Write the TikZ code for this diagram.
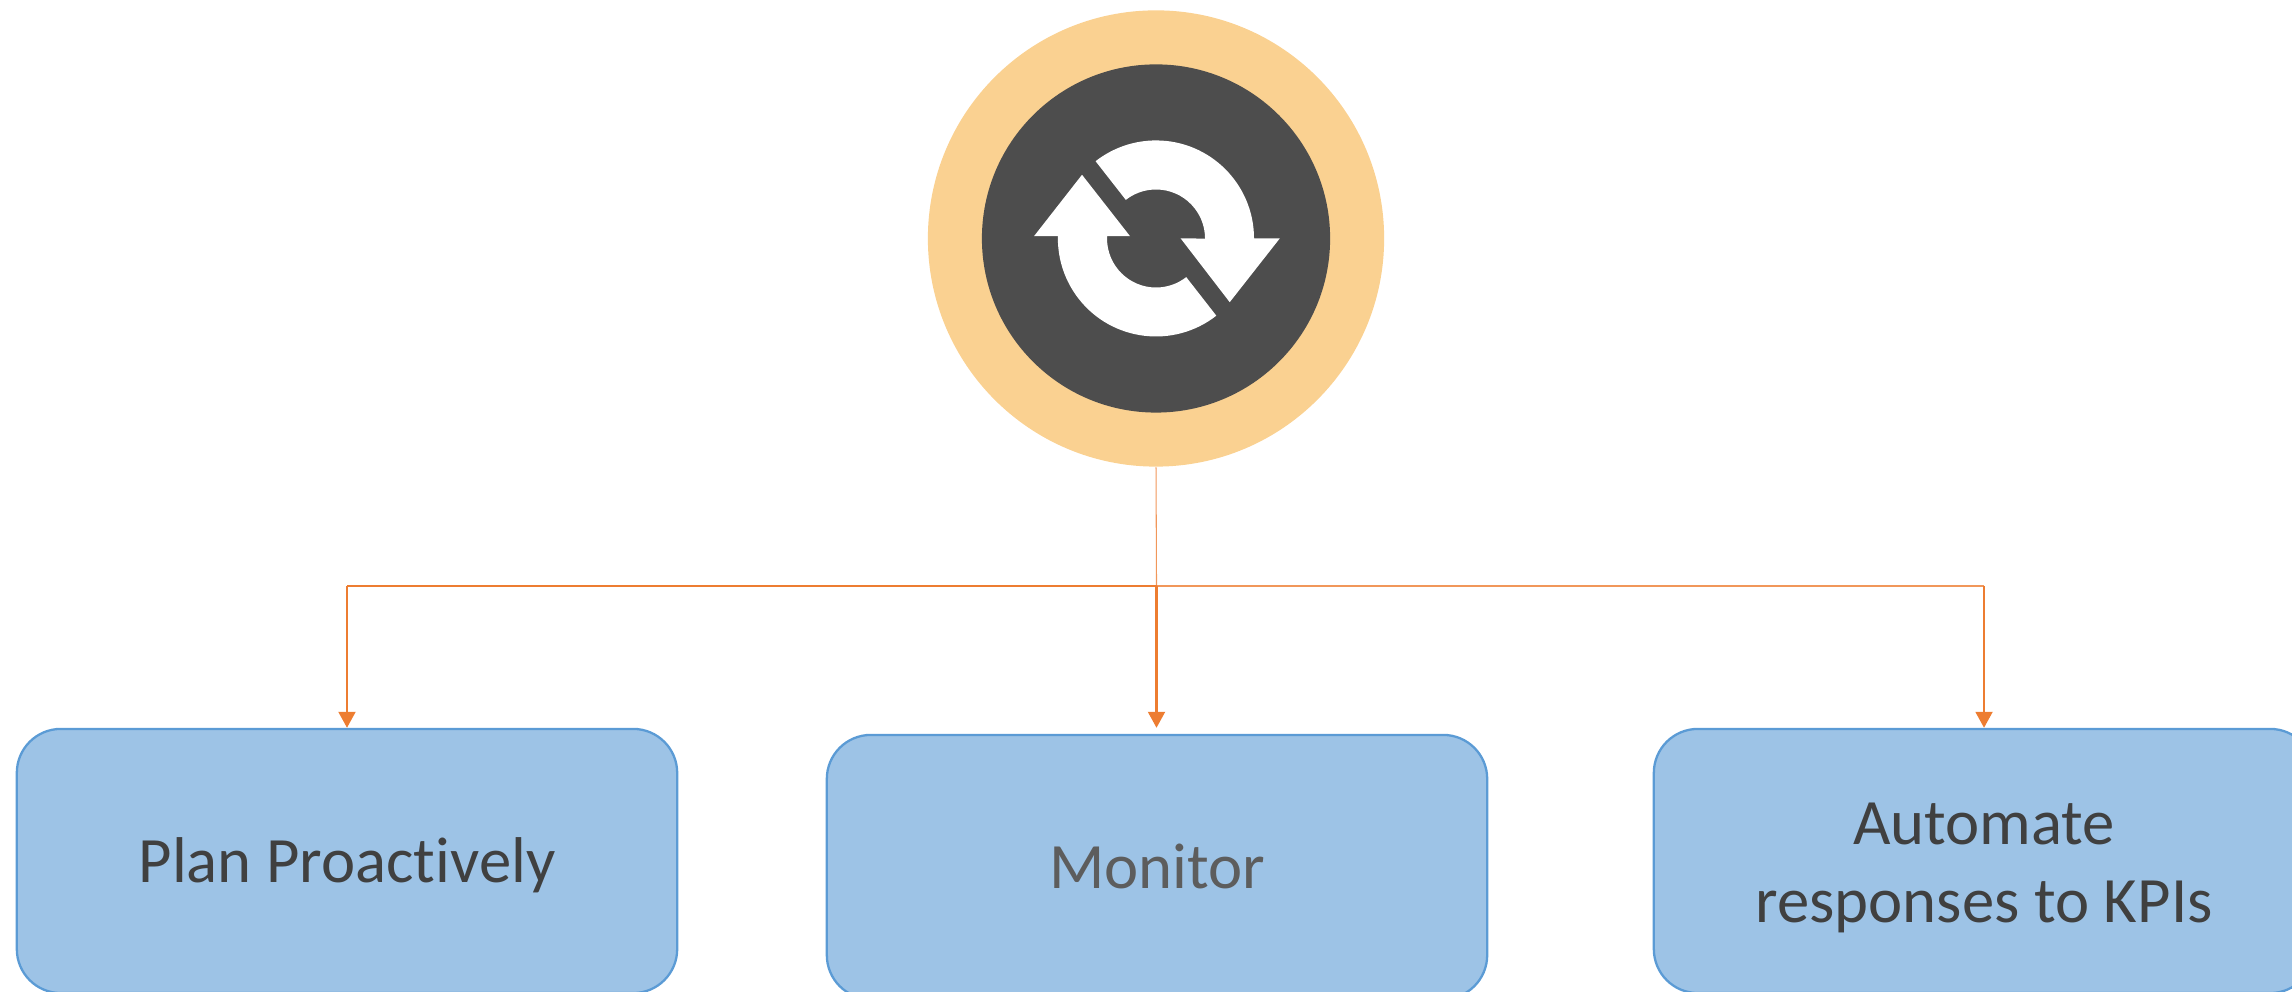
\documentclass[tikz,border=0pt]{standalone}
\usepackage{fontspec}
\setmainfont[Ligatures=NoCommon]{Carlito}
\usetikzlibrary{arrows.meta}
\definecolor{ringcolor}{HTML}{FAD191}
\definecolor{hubcolor}{HTML}{4D4D4D}
\definecolor{boxfill}{HTML}{9DC3E6}
\definecolor{boxline}{HTML}{5B9BD5}
\definecolor{linkcolor}{HTML}{ED7D31}
\definecolor{labelcolor}{HTML}{404040}
\tikzset{
  taskbox/.style={draw=boxline,fill=boxfill,line width=0.65pt,rounded corners=0.44cm,
    minimum width=6.6cm,minimum height=2.64cm,inner sep=0pt,align=center,text=labelcolor,
    font=\fontsize{18.4pt}{22.2pt}\selectfont},
  oneline/.style={text height=15.7pt,text depth=3.2pt},
  ringnode/.style={circle,fill=ringcolor,minimum size=4.56cm,inner sep=0pt},
  hubnode/.style={circle,fill=hubcolor,minimum size=3.48cm,inner sep=0pt},
  link/.style={draw=linkcolor,line width=0.45pt},
  linkarrow/.style={link,line width=0.6pt,-{Triangle[length=0.16cm,width=0.17cm]}}
}
\begin{document}
\begin{tikzpicture}[x=0.01cm,y=0.01cm]
  \useasboundingbox (0,0) rectangle (2292,992);
  \clip (0,0) rectangle (2292,992);
  \node[ringnode] (ring) at (1156,753.5) {};
  \node[hubnode] (hub) at (1156,753.5) {};
  \node[taskbox,oneline] (plan) at (347,131) {Plan Proactively};
  \node[taskbox,oneline,text=labelcolor!85] (monitor) at (1157,125) {Monitor};
  \node[taskbox] (automate) at (1984,131) {\rule{0pt}{15.8pt}Automate\\responses to KPIs};
  \coordinate (rail) at (1156.5,406);
  \coordinate (railleft) at (347,406);
  \coordinate (railright) at (1984,406);
  % refresh icon
  \begin{scope}[shift={(1156,753.5)},fill=white]
    \fill (-122,2.3) -- (-74,63.7) -- (-26,2.3) -- (-49,2.3) -- (-49,0)
      arc[start angle=180,end angle=308,radius=0.49cm]
      -- (60.3,-77.2) arc[start angle=308,end angle=180,radius=0.98cm] -- (-98,2.3) -- cycle;
    \fill (24.7,0) -- (73.7,-63.7) -- (123.7,0) -- (98,0)
      arc[start angle=0,end angle=128,radius=0.98cm]
      -- (-30.2,38.6) arc[start angle=128,end angle=0,radius=0.49cm] -- cycle;
  \end{scope}
  \draw[link,line width=0.3pt,draw=linkcolor!80] (ring.south) -- (rail);
  \draw[link] (railleft) -- (rail);
  \draw[link,draw=linkcolor!80] (rail) -- (railright);
  \begin{scope}[linkarrow]
    \draw (railleft) -- (plan.north);
    \draw[shorten >=0.06cm] (rail) -- (monitor.north -| rail);
    \draw (railright) -- (automate.north);
  \end{scope}
\end{tikzpicture}
\end{document}
